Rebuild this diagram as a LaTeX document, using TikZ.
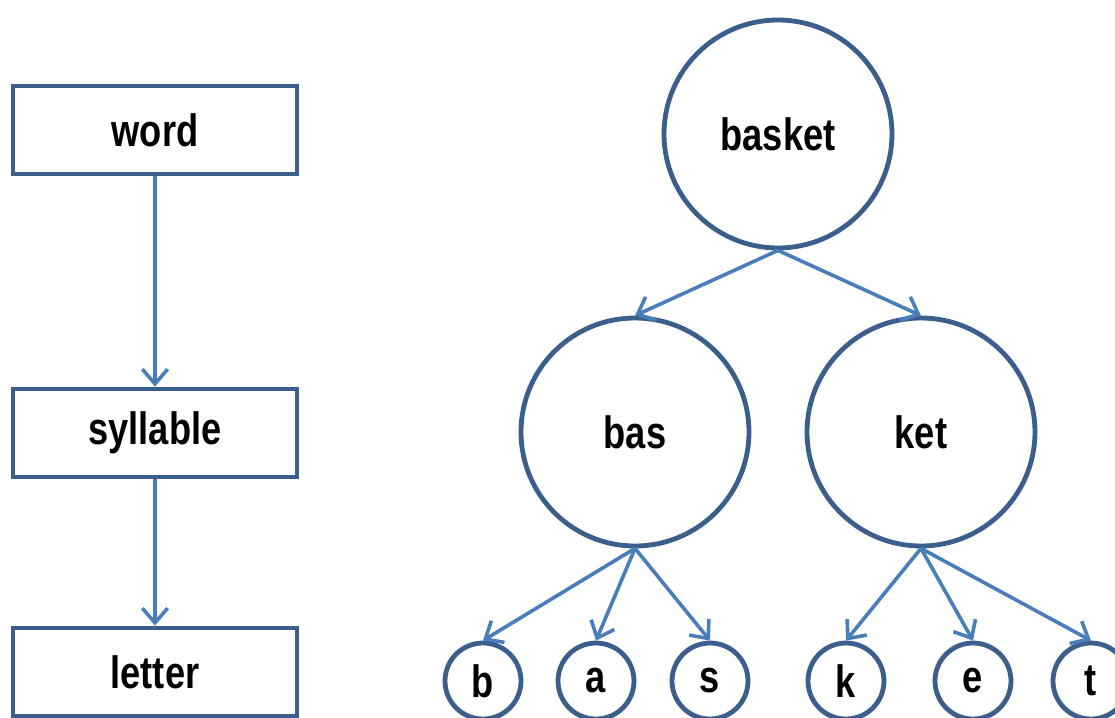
\documentclass[tikz,border=0pt]{standalone}
\usepackage{fontspec}
\setmainfont{Liberation Sans}[FakeStretch=0.8]
\usepackage{xcolor}
\usepackage{tikz}
\usetikzlibrary{arrows.meta,positioning}

\definecolor{edgeblue}{HTML}{3B5E8C}
\definecolor{linkblue}{HTML}{4A7EBB}

\begin{document}
\begin{tikzpicture}[
  x=0.75pt, y=-0.75pt,
  level/.style={draw=edgeblue, line width=3.6pt, fill=white,
                minimum width=213pt, minimum height=66pt,
                font=\fontsize{34}{40}\selectfont\bfseries},
  part/.style={circle, draw=edgeblue, line width=3.6pt, fill=white,
               minimum size=171pt, inner sep=0pt,
               font=\fontsize{34}{40}\selectfont\bfseries},
  letterbox/.style={part, minimum size=57pt},
  link/.style={draw=linkblue, line width=2.7pt,
               -{Straight Barb[length=11pt,width=19pt,line width=2.7pt]}},
]
  \useasboundingbox (0,0) rectangle (1115,718);

  % levels on the left
  \node[level] (word)     at (155,130) {word};
  \node[level] (syllable) at (155,433) {syllable};
  \node[level] (letter)   at (155,672) {letter};

  % the word split up
  \node[part] (basket) at (778,134) {basket};
  \node[part] (bas)    at (635,432) {bas};
  \node[part] (ket)    at (921,432) {ket};

  \node[letterbox] (b) at (483,681) {b};
  \node[letterbox] (a) at (596,681) {a};
  \node[letterbox] (s) at (710,681) {s};
  \node[letterbox] (k) at (846,681) {k};
  \node[letterbox] (e) at (973,681) {e};
  \node[letterbox] (t) at (1091,681) {t};

  \draw[link] (word) -- (syllable);
  \draw[link] (syllable) -- (letter);

  \draw[link] (basket.south) -- (bas.north);
  \draw[link] (basket.south) -- (ket.north);
  \foreach \c in {b,a,s}
    \draw[link] (bas.south) -- (\c.north);
  \foreach \c in {k,e,t}
    \draw[link] (ket.south) -- (\c.north);
\end{tikzpicture}
\end{document}
